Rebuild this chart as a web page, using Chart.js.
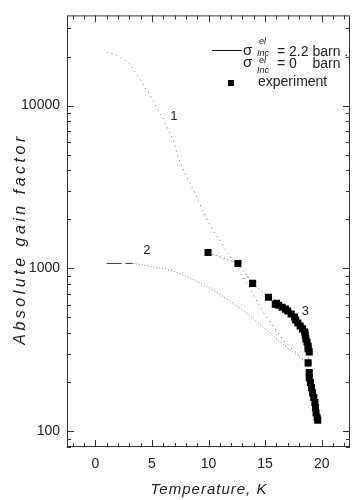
<!DOCTYPE html>
<html>
<head>
<meta charset="utf-8">
<script src="https://cdn.jsdelivr.net/npm/chart.js@4"></script>
<style>
  body { margin: 0; background: #fff; }
  canvas { display: block; }
</style>
</head>
<body>
<canvas id="chart" width="363" height="500"></canvas>
<script>
// curve 1: sigma = 0 barn (dotted)
const curve1T = [1.0, 1.8, 2.6, 3.0, 3.3, 3.85, 4.3, 4.7, 5.1, 5.5, 6.0, 6.4, 6.9, 7.3, 7.9, 8.8, 9.7, 10.4, 11.2, 12.0, 12.8, 13.7, 14.9, 16.6, 18.4, 18.7];
const curve1G = [21200, 20600, 19100, 18100, 16900, 14900, 13100, 12000, 10800, 9500, 8360, 7160, 6140, 4830, 3850, 2910, 2110, 1705, 1420, 1150, 950, 740, 530, 363, 274, 262];

// curve 2: sigma = 2.2 barn
const curve2T = [1.0, 3.3, 3.9, 4.8, 6.0, 7.2, 8.4, 9.5, 10.6, 12.2, 13.7, 15.4, 17.2, 18.5];
const curve2G = [1073, 1073, 1058, 1028, 1000, 945, 869, 798, 724, 611, 509, 401, 316, 267];

// experiment
const expT = [9.96, 12.6, 13.9, 15.3, 15.9, 16.0, 16.2, 16.5, 16.8, 17.0, 17.3, 17.6, 17.7, 17.9, 18.1, 18.3, 18.5, 18.55, 18.6, 18.7, 18.8, 18.8, 18.9,
              18.8, 18.9, 18.9, 19.0, 19.1, 19.2, 19.3, 19.4, 19.45, 19.5, 19.6, 19.65];
const expG = [1252, 1073, 809, 665, 603, 611, 594, 578, 562, 547, 525, 503, 482, 462, 443, 425, 407, 390, 369, 353, 334, 321, 307,
              263, 229, 213, 199, 185, 172, 161, 150, 140, 130, 121, 117];

const xTicks = [0, 5, 10, 15, 20];
const yTicks = [100, 1000, 10000];

const curveLabels = [
    { text: '1', t: 6.95, g: 8590 },
    { text: '2', t: 4.56, g: 1288 },
    { text: '3', t: 18.55, g: 546 }
];

const FONT = '"Liberation Sans", Arial, sans-serif';

function toPoints(xs, ys) {
    return xs.map((x, i) => ({ x: x, y: ys[i] }));
}

// sigma with "el" superscript and "Inc" subscript, then the rest of the entry
function sigmaEntry(ctx, base, supBase, subBase, txt) {
    ctx.font = '15px ' + FONT;
    ctx.fillText('\u03c3', 243, base);
    ctx.font = 'italic 9px ' + FONT;
    ctx.fillText('el', 259, supBase);
    ctx.fillText('Inc', 257, subBase);
    ctx.font = '14px ' + FONT;
    ctx.fillText(txt, 277, base + 1);
}

// frame, inward ticks, titles, legend and curve numbers
const decorations = {
    id: 'decorations',
    afterDraw(chart) {
        const ctx = chart.ctx;
        const a = chart.chartArea;
        const xs = chart.scales.x;
        const ys = chart.scales.y;
        ctx.save();
        ctx.strokeStyle = '#333';
        ctx.lineWidth = 1;
        ctx.strokeRect(a.left + 0.5, a.top + 0.5, a.right - a.left - 1, a.bottom - a.top - 1);

        ctx.beginPath();
        for (let t = -2; t <= 22; t++) {
            const px = Math.round(xs.getPixelForValue(t)) + 0.5;
            const len = t % 5 === 0 ? 7 : 4;
            ctx.moveTo(px, a.bottom);
            ctx.lineTo(px, a.bottom - len);
            ctx.moveTo(px, a.top);
            ctx.lineTo(px, a.top + len);
        }
        for (let d = 10; d <= 10000; d *= 10) {
            for (let m = 1; m <= 9; m++) {
                const v = m * d;
                if (v < ys.min || v > ys.max) continue;
                const py = Math.round(ys.getPixelForValue(v)) + 0.5;
                const len = m === 1 ? 7 : 4;
                ctx.moveTo(a.left, py);
                ctx.lineTo(a.left + len, py);
                ctx.moveTo(a.right, py);
                ctx.lineTo(a.right - len, py);
            }
        }
        ctx.stroke();

        // axis titles
        ctx.fillStyle = '#222';
        ctx.textAlign = 'center';
        ctx.textBaseline = 'middle';
        ctx.font = 'italic 15px ' + FONT;
        ctx.letterSpacing = '1px';
        ctx.fillText('Temperature, K', 209, 490);
        ctx.save();
        ctx.translate(21, 239);
        ctx.rotate(-Math.PI / 2);
        ctx.font = 'italic 16px ' + FONT;
        ctx.letterSpacing = '3.5px';
        ctx.fillText('Absolute gain factor', 0, 0);
        ctx.restore();
        ctx.letterSpacing = '0px';

        // curve numbers
        ctx.font = '13px ' + FONT;
        curveLabels.forEach(l => {
            ctx.fillText(l.text, xs.getPixelForValue(l.t), ys.getPixelForValue(l.g));
        });

        // legend
        ctx.textAlign = 'left';
        ctx.textBaseline = 'alphabetic';
        ctx.strokeStyle = '#111';
        ctx.beginPath();
        ctx.moveTo(212, 50.5);
        ctx.lineTo(242, 50.5);
        ctx.stroke();
        sigmaEntry(ctx, 55, 44, 56, '= 2.2 barn .');
        sigmaEntry(ctx, 67, 63, 73, '= 0    barn');
        ctx.fillStyle = '#000';
        ctx.fillRect(228, 80, 6, 6);
        ctx.fillStyle = '#222';
        ctx.font = '14px ' + FONT;
        ctx.fillText('experiment', 258, 86);
        ctx.restore();
    }
};

const ctx = document.getElementById('chart').getContext('2d');
new Chart(ctx, {
    type: 'scatter',
    data: {
        datasets: [
            {
                data: toPoints(curve1T, curve1G),
                showLine: true,
                borderColor: '#666',
                borderWidth: 1,
                borderDash: [1, 4],
                pointRadius: 0
            },
            {
                data: toPoints(curve2T, curve2G),
                showLine: true,
                borderColor: '#777',
                borderWidth: 1,
                pointRadius: 0,
                segment: {
                    borderDash: c => c.p0DataIndex === 0 ? [15, 4] : [1, 2],
                    borderColor: c => c.p0DataIndex === 0 ? '#333' : '#777'
                }
            },
            {
                data: toPoints(expT, expG),
                showLine: true,
                borderColor: '#999',
                borderWidth: 1,
                borderDash: [2, 2],
                pointStyle: 'rect',
                pointRadius: 5,
                pointBorderWidth: 0,
                pointBackgroundColor: '#000'
            }
        ]
    },
    options: {
        responsive: false,
        devicePixelRatio: 1,
        animation: false,
        layout: { padding: { top: 14, right: 13, left: 0, bottom: 0 } },
        plugins: {
            legend: { display: false },
            tooltip: { enabled: false }
        },
        scales: {
            x: {
                type: 'linear',
                min: -2.5,
                max: 22.5,
                grid: { display: false, drawTicks: false },
                border: { display: false },
                ticks: {
                    font: { family: FONT, size: 14 },
                    color: '#222',
                    padding: 9,
                    maxRotation: 0
                },
                afterBuildTicks: s => { s.ticks = xTicks.map(v => ({ value: v })); },
                afterFit: s => { s.height = 53; }
            },
            y: {
                type: 'logarithmic',
                min: 80,
                max: 35800,
                grid: { display: false, drawTicks: false },
                border: { display: false },
                ticks: {
                    font: { family: FONT, size: 14 },
                    color: '#222',
                    padding: 7,
                    callback: v => String(v)
                },
                afterBuildTicks: s => { s.ticks = yTicks.map(v => ({ value: v })); },
                afterFit: s => { s.width = 67; }
            }
        }
    },
    plugins: [decorations]
});
</script>
</body>
</html>
